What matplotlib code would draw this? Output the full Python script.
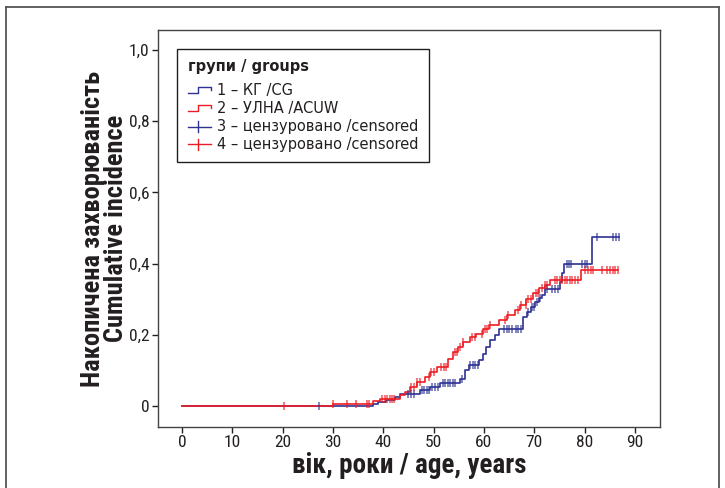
import numpy as np
import matplotlib
matplotlib.use('Agg')
import matplotlib.pyplot as plt
from matplotlib.legend_handler import HandlerBase
from matplotlib.lines import Line2D

# ---- data ----
cg_event_age = [0, 38.0, 39.0, 40.5, 42.3, 43.3, 47.3, 49.3, 51.3, 55.3, 56.3, 57.0,
                59.0, 59.9, 60.5, 61.2, 62.2, 62.9, 67.8, 68.6, 69.3, 70.2, 70.9, 71.5,
                72.2, 75.1, 75.5, 76.0, 81.4]
cg_incidence = [0, 0.007, 0.011, 0.016, 0.024, 0.033, 0.044, 0.053, 0.065, 0.077, 0.100,
                0.114, 0.128, 0.147, 0.166, 0.185, 0.199, 0.217, 0.250, 0.264, 0.278,
                0.292, 0.302, 0.311, 0.328, 0.349, 0.374, 0.398, 0.475]
cg_censored = [27.3, 45.0, 45.5, 46.1, 47.6, 48.1, 48.6, 49.1, 49.7, 50.2, 50.8, 51.8,
               52.3, 52.8, 53.3, 53.8, 54.3, 55.6, 57.3, 57.8, 58.3, 58.8, 64.0, 64.5,
               65.0, 65.5, 66.3, 66.8, 67.3, 68.8, 69.5, 70.0, 70.6, 71.2, 72.5, 73.6,
               74.1, 74.7, 76.5, 77.0, 77.4, 79.5, 80.0, 80.4, 82.5, 85.7, 86.2, 86.8]

acuw_event_age = [0, 29.9, 37.9, 39.4, 43.3, 44.3, 45.3, 46.6, 48.3, 49.3, 50.6, 52.8,
                  53.9, 54.9, 55.9, 57.2, 58.5, 59.8, 61.1, 63.0, 64.5, 66.1, 67.1, 68.4,
                  69.8, 71.0, 72.1, 73.2, 79.3]
acuw_incidence = [0, 0.007, 0.014, 0.019, 0.030, 0.039, 0.053, 0.067, 0.082, 0.096, 0.110,
                  0.133, 0.152, 0.166, 0.180, 0.194, 0.203, 0.215, 0.227, 0.241, 0.255,
                  0.269, 0.283, 0.300, 0.316, 0.330, 0.341, 0.355, 0.383]
acuw_censored = [20.3, 30.0, 32.8, 34.5, 36.7, 37.1, 39.8, 40.3, 40.8, 41.3, 41.8, 42.2,
                 45.5, 46.0, 46.6, 47.2, 49.0, 49.5, 50.0, 51.5, 52.0, 52.4, 54.2, 54.7,
                 55.2, 55.9, 57.6, 58.2, 59.7, 60.2, 60.7, 61.3, 64.2, 64.8, 66.8, 67.4,
                 68.3, 68.8, 69.4, 70.3, 70.8, 71.6, 72.1, 72.6, 74.1, 74.6, 75.1, 75.6,
                 76.1, 76.6, 77.1, 77.6, 78.1, 78.6, 80.1, 80.6, 81.2, 81.7, 83.4, 84.5,
                 85.1, 85.6, 86.1, 86.6]

x_ticks = [0, 10, 20, 30, 40, 50, 60, 70, 80, 90]
y_ticks = [0, 0.2, 0.4, 0.6, 0.8, 1.0]
y_tick_labels = ['0', '0,2', '0,4', '0,6', '0,8', '1,0']

legend_title = 'групи / groups'
legend_labels = ['1 – КГ /CG', '2 – УЛНА /ACUW',
                 '3 – цензуровано /censored', '4 – цензуровано /censored']
x_label = 'вік, роки / age, years'
y_label = 'Накопичена захворюваність\nCumulative incidence'

BLUE = '#2e3192'
RED = '#ed1c24'
INK = '#231f20'
COND = ['Roboto Condensed', 'DejaVu Sans']
PLAIN = ['DejaVu Sans']

plt.rcParams['font.family'] = COND

fig = plt.figure(figsize=(7.25, 4.88), dpi=100)
ax = fig.add_axes([158/725, 1-427/488, (660-158)/725, (427-30)/488])


def step_value(ages, vals, t):
    idx = np.searchsorted(np.asarray(ages), np.asarray(t), side='right') - 1
    return np.asarray(vals)[idx]


for ages, vals, cens, col in [(cg_event_age, cg_incidence, cg_censored, BLUE),
                              (acuw_event_age, acuw_incidence, acuw_censored, RED)]:
    end = max(cens)
    xs = list(ages) + [end]
    ys = list(vals) + [vals[-1]]
    ax.step(xs, ys, where='post', color=col, lw=1.2, zorder=3)
    ax.plot(cens, step_value(ages, vals, cens), ls='none', marker='|',
            markersize=6, markeredgewidth=1.1, color=col, alpha=0.75, zorder=4)

ax.set_xlim(-4.8, 95)
ax.set_ylim(-0.059, 1.056)
ax.set_xticks(x_ticks)
ax.set_yticks(y_ticks)
ax.set_yticklabels(y_tick_labels)
ax.tick_params(axis='both', direction='out', length=4, width=1, labelsize=12.5,
               pad=2, color=INK, labelcolor=INK)
for s in ax.spines.values():
    s.set_color('#444444')
    s.set_linewidth(1.0)

ax.set_xlabel(x_label, fontsize=19.5, fontweight='bold', color=INK, labelpad=1)
ax.set_ylabel(y_label, fontsize=19, fontweight='bold', color=INK, labelpad=1,
              linespacing=0.92)


class StepHandler(HandlerBase):
    def create_artists(self, legend, orig_handle, xdescent, ydescent, width, height,
                       fontsize, trans):
        x0, w = -xdescent, width
        y0, h = -ydescent, height
        xs = [x0, x0 + 0.45*w, x0 + 0.45*w, x0 + w, x0 + w]
        ys = [y0 + 0.15*h, y0 + 0.15*h, y0 + 0.75*h, y0 + 0.75*h, y0 + 0.45*h]
        ln = Line2D(xs, ys, color=orig_handle.get_color(), lw=1.0, transform=trans)
        return [ln]


class CensorHandler(HandlerBase):
    def create_artists(self, legend, orig_handle, xdescent, ydescent, width, height,
                       fontsize, trans):
        x0, w = -xdescent, width
        y0, h = -ydescent, height
        ln = Line2D([x0, x0 + w], [y0 + 0.4*h]*2, color=orig_handle.get_color(),
                    lw=1.0, transform=trans)
        tk = Line2D([x0 + 0.45*w]*2, [y0 - 0.1*h, y0 + 0.9*h],
                    color=orig_handle.get_color(), lw=1.0, transform=trans)
        return [ln, tk]


class StepKey(Line2D):
    pass


class CensorKey(Line2D):
    pass


handles = [StepKey([], [], color=BLUE), StepKey([], [], color=RED),
           CensorKey([], [], color=BLUE), CensorKey([], [], color=RED)]
leg = ax.legend(handles, legend_labels, title=legend_title,
                handler_map={StepKey: StepHandler(), CensorKey: CensorHandler()},
                loc='upper left', bbox_to_anchor=((177-158)/502, (427-49)/397),
                borderaxespad=0,
                prop={'family': PLAIN, 'size': 10.5},
                title_fontproperties={'family': PLAIN, 'weight': 'bold', 'size': 10.5},
                frameon=True, fancybox=False, edgecolor=INK, framealpha=1,
                handlelength=1.6, handletextpad=0.45, labelspacing=0.2,
                borderpad=0.72, alignment='left')
leg._legend_box.sep = 6
leg.get_frame().set_linewidth(1.0)
for t in leg.get_texts():
    t.set_color(INK)
leg.get_title().set_color(INK)

# outer frame
for xs, ys in [([6/725, 6/725], [0, 1-7/488]),
               ([6/725, 719/725], [1-7/488, 1-7/488]),
               ([719/725, 719/725], [1-7/488, 0])]:
    fig.add_artist(Line2D(xs, ys, transform=fig.transFigure, color='#555555', lw=1.3))

fig.savefig('out.png', dpi=100)
